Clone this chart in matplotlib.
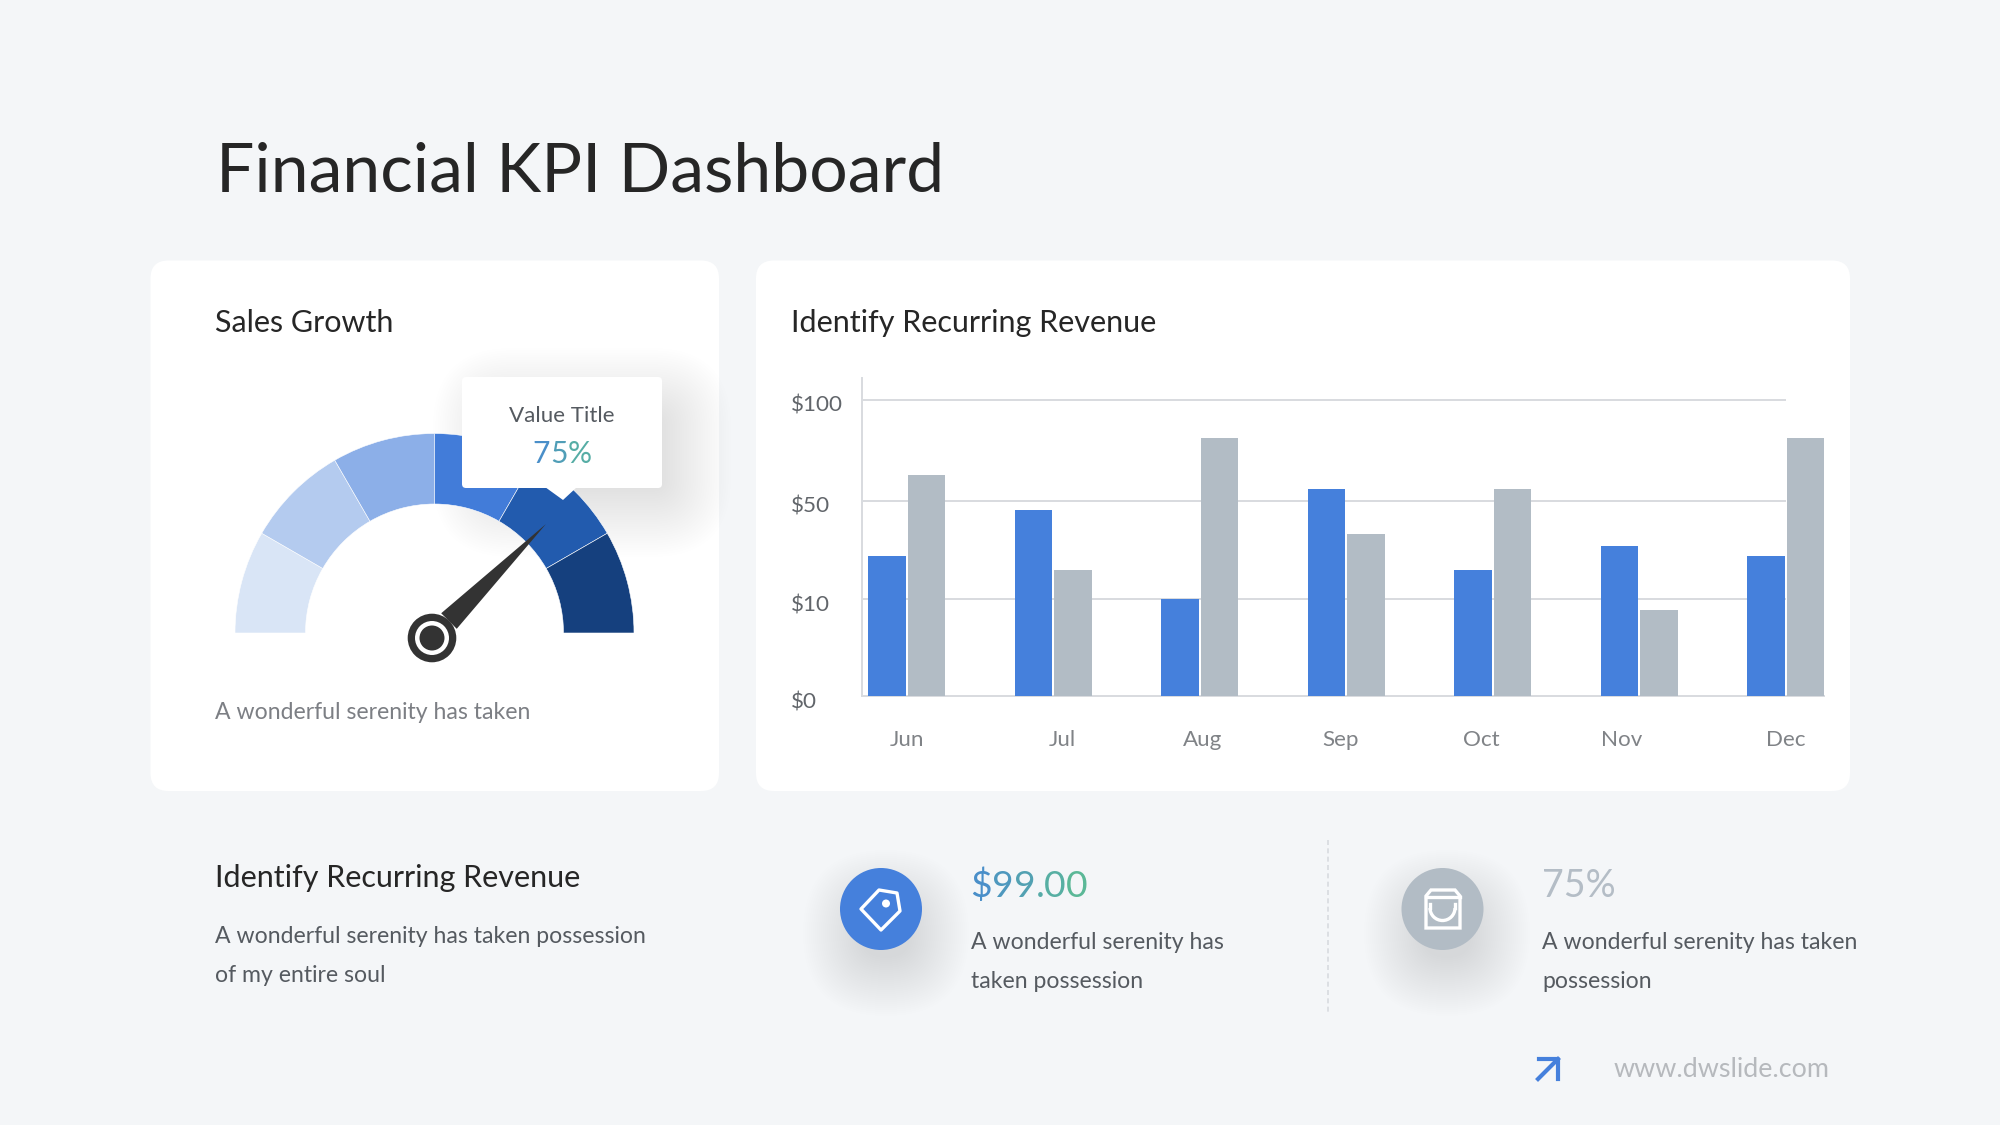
import numpy as np
import matplotlib
matplotlib.use("Agg")
import matplotlib.pyplot as plt
from matplotlib.colors import to_rgb
from matplotlib.font_manager import FontProperties
from matplotlib.patches import Arc, Circle, FancyBboxPatch, Polygon
from matplotlib.transforms import ScaledTranslation

plt.rcParams['font.family'] = ['Lato', 'DejaVu Sans']

# chart values
months = ["Jun", "Jul", "Aug", "Sep", "Oct", "Nov", "Dec"]
series_blue = [27.6, 46.5, 10, 56, 22, 31.6, 27.6]
series_gray = [63, 22, 81, 36.7, 56, 8.9, 81]
y_ticks = [0, 10, 50, 100]
y_labels = ["$0", "$10", "$50", "$100"]
gauge_segments = [1, 1, 1, 1, 1, 1]
gauge_value = 75

# style
BG = "#f4f6f8"
BLUE = "#4580dc"
GRAY = "#b2bcc5"
GRID = "#d8dbdf"
DARK = "#262626"
TEXT = "#555a60"
gauge_colors = ["#d9e5f6", "#b4cbef", "#8cafe8", "#427cd9", "#225bae", "#15407e"]
GRAD_A = "#4a8fc9"
GRAD_B = "#5fc18c"
BODY = 8.27
HEAD = 11.0

W, H = 2000, 1125
fig = plt.figure(figsize=(10, 5.625), dpi=200, facecolor=BG)


def pixel_axes(zorder):
    # whole-figure axes that use image pixels, y going down
    ax = fig.add_axes([0, 0, 1, 1], zorder=zorder)
    ax.set_xlim(0, W)
    ax.set_ylim(H, 0)
    ax.axis("off")
    return ax


def box_shadow(ax, x0, y0, x1, y1, r, dx, dy, spread, alpha, steps=30):
    for i in range(steps):
        s = spread * (1 - i / steps) - spread * 0.3
        ax.add_patch(FancyBboxPatch((x0 + dx - s, y0 + dy - s), x1 - x0 + 2 * s, y1 - y0 + 2 * s,
                                    boxstyle="round,pad=0,rounding_size=%f" % max(r + s, 1),
                                    fc="#1c2733", ec="none", alpha=alpha / steps))


def card(ax, x0, y0, x1, y1, r=18):
    ax.add_patch(FancyBboxPatch((x0, y0), x1 - x0, y1 - y0,
                                boxstyle="round,pad=0,rounding_size=%f" % r, fc="white", ec="none"))


def gradient_text(ax, x, y, s, size):
    # one text per character, coloured from left to right
    prop = FontProperties(family=['Lato', 'DejaVu Sans'], size=size)
    rend = fig.canvas.get_renderer()
    total = rend.get_text_width_height_descent(s, prop, False)[0]
    a, b = np.array(to_rgb(GRAD_A)), np.array(to_rgb(GRAD_B))
    for i, ch in enumerate(s):
        off = rend.get_text_width_height_descent(s[:i], prop, False)[0] if i else 0
        c = a + (b - a) * (off / total)
        ax.text(x + off, y, ch, fontproperties=prop, color=c, ha="left", va="baseline")
    return total


page = pixel_axes(0)

# cards
box_shadow(page, 151, 261, 719, 791, 18, 0, 20, 70, 0.045)
box_shadow(page, 756, 261, 1850, 791, 18, 0, 20, 70, 0.045)
card(page, 150.5, 260.5, 719, 791)
card(page, 756, 260.5, 1850, 791)

# tooltip shadow goes under the gauge
box_shadow(page, 462, 377, 662, 488, 30, 20, 20, 70, 0.06)

# headings and body text
page.text(216, 191, "Financial KPI Dashboard", fontsize=24.45, color=DARK, va="baseline")
page.text(215, 332, "Sales Growth", fontsize=HEAD, color=DARK, va="baseline")
page.text(791, 332, "Identify Recurring Revenue", fontsize=HEAD, color=DARK, va="baseline")
page.text(215, 719, "A wonderful serenity has taken", fontsize=BODY, color="#7c7f84", va="baseline")
page.text(215, 887, "Identify Recurring Revenue", fontsize=HEAD, color=DARK, va="baseline")
page.text(215, 943, "A wonderful serenity has taken possession", fontsize=BODY, color=TEXT, va="baseline")
page.text(215, 982, "of my entire soul", fontsize=BODY, color=TEXT, va="baseline")

# bottom stats
page.plot([1327.5, 1327.5], [840, 1012], color=GRID, lw=0.6, ls=(0, (3, 2)))
box_shadow(page, 840, 868, 922, 950, 41, 5, 24, 60, 0.07)
box_shadow(page, 1401, 868, 1483, 950, 41, 5, 24, 60, 0.07)
page.add_patch(Circle((881, 909), 41, fc=BLUE, ec="none"))
page.add_patch(Circle((1442.5, 909), 41, fc=GRAY, ec="none"))

# tag icon
page.add_patch(Polygon([(861, 909), (879, 890), (897, 893), (900, 911), (881, 930)], closed=True,
                       fc="none", ec="white", lw=1.2, joinstyle="round"))
page.add_patch(Circle((886, 903.5), 4, fc="white", ec="none"))

# bag icon
page.add_patch(Polygon([(1426, 896), (1431, 890), (1455, 890), (1460, 896), (1460, 928), (1426, 928)],
                       closed=True, fc="none", ec="white", lw=1.2))
page.plot([1426, 1460], [897, 897], color="white", lw=1.2)
page.add_patch(Arc((1442.5, 908), 25, 25, theta1=0, theta2=180, color="white", lw=1.2))
page.plot([1430, 1430], [904, 908], color="white", lw=1.2)
page.plot([1455, 1455], [904, 908], color="white", lw=1.2)

gradient_text(page, 970.5, 897, "$99.00", 13.4)
page.text(971, 949, "A wonderful serenity has", fontsize=BODY, color=TEXT, va="baseline")
page.text(971, 988, "taken possession", fontsize=BODY, color=TEXT, va="baseline")
page.text(1542, 897, "75%", fontsize=13.5, color="#b4bdc6", va="baseline")
page.text(1542, 949, "A wonderful serenity has taken", fontsize=BODY, color=TEXT, va="baseline")
page.text(1542, 988, "possession", fontsize=BODY, color=TEXT, va="baseline")

# footer
page.plot([1538, 1558], [1079, 1059], color=BLUE, lw=1.5)
page.plot([1539, 1558, 1558], [1059, 1059, 1079], color=BLUE, lw=1.5)
page.text(1614, 1077, "www.dwslide.com", fontsize=9.7, color="#b6b9bd", va="baseline")

# bar chart, y axis has even steps for uneven dollar ticks
chart = fig.add_axes([862 / W, 1 - 696.3 / H, (1824 - 862) / W, (696.3 - 378) / H], zorder=1)
chart.patch.set_alpha(0)
scale_v = [0, 10, 50, 100, 200]
scale_p = [0, 0.983, 1.976, 3, 5]
chart.set_yscale("function", functions=(lambda v: np.interp(v, scale_v, scale_p),
                                        lambda p: np.interp(p, scale_p, scale_v)))
x = np.arange(len(months))
chart.hlines(y_ticks[1:], -0.307, 6, color=GRID, lw=0.7, zorder=1)
chart.bar(x - 0.137, series_blue, width=0.256, color=BLUE, zorder=3)
chart.bar(x + 0.133, series_gray, width=0.256, color=GRAY, zorder=3)
chart.set_xlim(-0.307, 6.26)
chart.set_ylim(0, 111)
for side in ["top", "right"]:
    chart.spines[side].set_visible(False)
for side in ["left", "bottom"]:
    chart.spines[side].set_color(GRID)
    chart.spines[side].set_linewidth(0.7)
chart.set_yticks(y_ticks)
chart.set_yticklabels(y_labels, ha="left")
chart.yaxis.set_minor_locator(plt.NullLocator())
chart.tick_params(axis="y", length=0, pad=25.5, labelsize=8.1, labelcolor="#62666b")
shift = ScaledTranslation(0, -4 / 200, fig.dpi_scale_trans)
for label in chart.get_yticklabels():
    label.set_transform(label.get_transform() + shift)
# month labels sit unevenly under the groups in the original
chart.set_xticks([0, 1.06, 2.02, 2.96, 3.92, 4.88, 6.0])
chart.set_xticklabels(months)
chart.tick_params(axis="x", length=0, pad=12, labelsize=8.05, labelcolor="#808387")

# gauge
GX, GY = 434.5, 633
gauge = fig.add_axes([(GX - 215) / W, 1 - (GY + 40) / H, 430 / W, 260 / H], zorder=2)
wedges, _ = gauge.pie(gauge_segments + [sum(gauge_segments)], colors=gauge_colors + ["white"], radius=199.5,
                      startangle=180, counterclock=False, frame=True,
                      wedgeprops=dict(width=70.5, edgecolor="white", linewidth=0.2))
wedges[-1].set_visible(False)
gauge.set_xlim(-215, 215)
gauge.set_ylim(-40, 220)
gauge.set_aspect("equal")
gauge.axis("off")

hub = np.array([-2.5, -5.0])
ang = np.radians(180 - 180 * gauge_value / 100)
u = np.array([np.cos(ang), np.sin(ang)])
n = np.array([-u[1], u[0]])
gauge.add_patch(Polygon([hub + 24 * u + 11 * n, hub + 161 * u, hub + 24 * u - 11 * n],
                        closed=True, fc="#333333", ec="none", zorder=5))
gauge.add_patch(Circle(hub, 24.3, fc="#333333", ec="none", zorder=6))
gauge.add_patch(Circle(hub, 17, fc="white", ec="none", zorder=7))
gauge.add_patch(Circle(hub, 12.5, fc="#333333", ec="none", zorder=8))

# tooltip over the gauge
top = pixel_axes(3)
card(top, 462, 377, 662, 488, r=4)
top.add_patch(Polygon([(545, 487), (577, 487), (563, 500)], closed=True, fc="white", ec="none"))
top.text(562, 422.5, "Value Title", fontsize=8.05, color=TEXT, ha="center", va="baseline")
w75 = FontProperties(family=['Lato', 'DejaVu Sans'], size=10.8)
rend = fig.canvas.get_renderer()
gradient_text(top, 562 - rend.get_text_width_height_descent("75%", w75, False)[0] / 2, 463, "75%", 10.8)

fig.savefig("out.png", dpi=200, facecolor=BG)
